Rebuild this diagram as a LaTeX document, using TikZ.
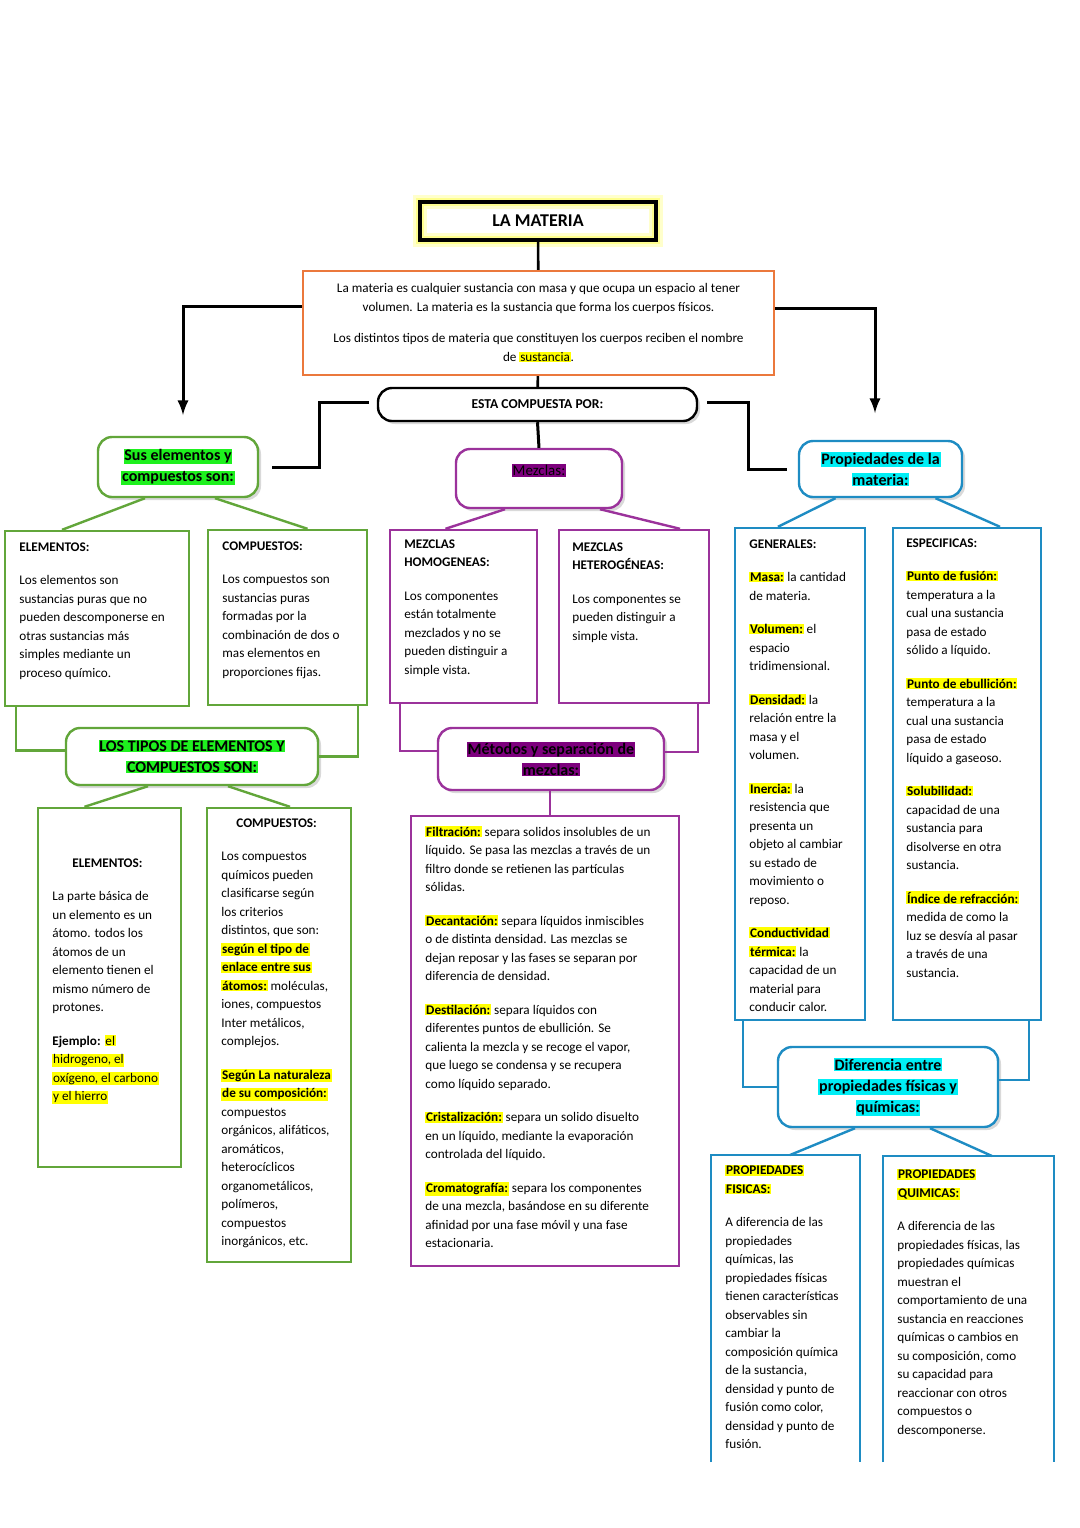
\documentclass[tikz,border=0pt]{standalone}
\usepackage{fontspec}
\setmainfont{Carlito}
\usetikzlibrary{fit,calc,shadows}

\definecolor{gline}{RGB}{98,166,58}
\definecolor{pline}{RGB}{155,50,155}
\definecolor{bline}{RGB}{30,140,195}
\definecolor{oline}{RGB}{235,120,60}
\definecolor{hly}{RGB}{255,255,0}
\definecolor{hlg}{RGB}{30,240,30}
\definecolor{hlp}{RGB}{125,0,125}
\definecolor{hlc}{RGB}{0,238,245}

\newcommand\hy[1]{{\setlength{\fboxsep}{0.4pt}\colorbox{hly}{#1}}}
\newcommand\hg[1]{{\setlength{\fboxsep}{0.4pt}\colorbox{hlg}{#1}}}
\newcommand\hp[1]{{\setlength{\fboxsep}{0.4pt}\colorbox{hlp}{#1}}}
\newcommand\hc[1]{{\setlength{\fboxsep}{0.4pt}\colorbox{hlc}{#1}}}
\newcommand\gap{\\[7.5pt]}

\tikzset{
  box/.style={inner sep=0pt, line width=1.2pt},
  rbox/.style={box, rounded corners=7pt, fill=white,
    drop shadow={opacity=0.3, shadow xshift=1.5pt, shadow yshift=-1.5pt}},
  txt/.style={inner sep=0pt, align=left, anchor=north west,
    font=\fontsize{6.6}{9.25}\selectfont},
  head/.style={inner sep=0pt, align=center, font=\fontsize{8}{10.5}\selectfont\bfseries},
  gr/.style={draw=gline, line width=1.2pt},
  pu/.style={draw=pline, line width=1.2pt},
  bl/.style={draw=bline, line width=1.2pt},
}

\begin{document}
\begin{tikzpicture}[x=0.5pt, y=-0.5pt]
\useasboundingbox (0,0) rectangle (1080,1528);

% top
\draw[hly, opacity=0.2, line width=7pt] (420,202) rectangle (656,240);
\draw[hly, opacity=0.3, line width=4pt] (420,202) rectangle (656,240);
\node[box, draw=black, line width=1.6pt, fit={(420,202)(656,240)}] (mat) {};
\node[head, font=\fontsize{9}{11}\selectfont\bfseries] at (mat) {LA MATERIA};
\node[box, draw=oline, fit={(303,271)(774,375)}] (def) {};
\node[txt, anchor=center, align=center] at (def) {La materia es cualquier sustancia con masa y que ocupa un espacio al tener\\
volumen. La materia es la sustancia que forma los cuerpos físicos.\\[6.5pt]
Los distintos tipos de materia que constituyen los cuerpos reciben el nombre\\
de \hy{sustancia}.};
\node[rbox, draw=black, fit={(378,388)(697,421)}] (esta) {};
\node[head, font=\fontsize{6.8}{9}\selectfont\bfseries] at (esta) {ESTA COMPUESTA POR:};

\draw[line width=1.3pt] (mat) -- (def);
\draw[line width=1.3pt] (def) -- (esta);
\draw[line width=1.5pt, -latex] ($(def.west)+(0,-17)$) -| (183,415);
\draw[line width=1.5pt, -latex] ($(def.east)+(0,-15)$) -| (875,413);

% level 1
\node[rbox, draw=gline, fit={(98,437)(258,497)}] (sus) {};
\node[head] at (sus) {\hg{Sus elementos y}\\\hg{compuestos son:}};
\node[rbox, draw=pline, fit={(456,449)(622,508)}] (mez) {};
\node[head, font=\fontsize{7.5}{9}\selectfont] at ($(mez)+(0,-8)$) {\hp{Mezclas:}};
\node[rbox, draw=bline, fit={(799,441)(962,497)}] (prop) {};
\node[head] at (prop) {\hc{Propiedades de la}\\\hc{materia:}};

\draw[line width=1.5pt] (esta.south) -- (mez.north);
\draw[line width=1.5pt] ($(esta.west)+(-8,-2)$) -- ++(-49,0) |- (sus.east -| 272,0);
\draw[line width=1.5pt] ($(esta.east)+(9,-2)$) -- ++(41,0) |- (prop.west -| 787,0);

% level 2 boxes
\node[box, draw=gline, fit={(5,531)(189,706)}] (el1) {};
\node[box, draw=gline, fit={(208,530)(367,705)}] (comp1) {};
\node[box, draw=pline, fit={(390,530)(537,703)}] (hom) {};
\node[box, draw=pline, fit={(559,530)(709,703)}] (het) {};
\node[box, draw=bline, fit={(735,528)(865,1020)}] (gen) {};
\node[box, draw=bline, fit={(893,528)(1041,1020)}] (esp) {};

\draw[gr] ($(sus.south)+(-33,0)$) -- ($(el1.north)+(-35,0)$);
\draw[gr] ($(sus.south)+(37,0)$) -- ($(comp1.north)+(20,0)$);
\draw[pu] ($(mez.south)+(-34,0)$) -- ($(hom.north)+(-18,0)$);
\draw[pu] ($(mez.south)+(61,0)$) -- ($(het.north)+(46,0)$);
\draw[bl] ($(prop.south)+(-45,0)$) -- ($(gen.north)+(-22,0)$);
\draw[bl] ($(prop.south)+(55,0)$) -- ($(esp.north)+(33,0)$);

\node[txt] (el1-t) at (19,542) {\textbf{ELEMENTOS:}\gap
Los elementos son\\sustancias puras que no\\pueden descomponerse en\\otras sustancias más\\simples mediante un\\proceso químico.};
\node[txt] (comp1-t) at (222,541) {\textbf{COMPUESTOS:}\gap
Los compuestos son\\sustancias puras\\formadas por la\\combinación de dos o\\mas elementos en\\proporciones fijas.};
\node[txt] (hom-t) at (404,539) {\textbf{MEZCLAS}\\\textbf{HOMOGENEAS:}\gap
Los componentes\\están totalmente\\mezclados y no se\\pueden distinguir a\\simple vista.};
\node[txt] (het-t) at (572,542) {\textbf{MEZCLAS}\\\textbf{HETEROGÉNEAS:}\gap
Los componentes se\\pueden distinguir a\\simple vista.};
\node[txt] (gen-t) at (749,539) {\textbf{GENERALES:}\gap
\hy{\textbf{Masa:}} la cantidad\\de materia.\gap
\hy{\textbf{Volumen:}} el\\espacio\\tridimensional.\gap
\hy{\textbf{Densidad:}} la\\relación entre la\\masa y el\\volumen.\gap
\hy{\textbf{Inercia:}} la\\resistencia que\\presenta un\\objeto al cambiar\\su estado de\\movimiento o\\reposo.\gap
\hy{\textbf{Conductividad}}\\\hy{\textbf{térmica:}} la\\capacidad de un\\material para\\conducir calor.};
\node[txt] (esp-t) at (906,538) {\textbf{ESPECIFICAS:}\gap
\hy{\textbf{Punto de fusión:}}\\temperatura a la\\cual una sustancia\\pasa de estado\\sólido a líquido.\gap
\hy{\textbf{Punto de ebullición:}}\\temperatura a la\\cual una sustancia\\pasa de estado\\líquido a gaseoso.\gap
\hy{\textbf{Solubilidad:}}\\capacidad de una\\sustancia para\\disolverse en otra\\sustancia.\gap
\hy{\textbf{Índice de refracción:}}\\medida de como la\\luz se desvía al pasar\\a través de una\\sustancia.};

% level 3 (green)
\node[rbox, draw=gline, fit={(66,728)(318,785)}] (tipos) {};
\node[head] at (tipos) {\hg{LOS TIPOS DE ELEMENTOS Y}\\\hg{COMPUESTOS SON:}};
\draw[gr] ($(el1.south west)+(12,0)$) |- ($(tipos.west)+(0,-6)$);
\draw[gr] ($(comp1.south east)+(-10,0)$) |- (tipos.east);
\node[box, draw=gline, fit={(38,808)(181,1167)}] (el2) {};
\node[box, draw=gline, fit={(207,808)(351,1262)}] (comp2) {};
\draw[gr] ($(tipos.south)+(-44,0)$) -- ($(el2.north)+(-25,0)$);
\draw[gr] ($(tipos.south)+(36,0)$) -- ($(comp2.north)+(11,0)$);
\node[txt] (el2-h) at (72,858) {\textbf{ELEMENTOS:}};
\node[txt] (el2-t) at (52,891) {La parte básica de\\un elemento es un\\átomo. todos los\\átomos de un\\elemento tienen el\\mismo número de\\protones.\gap
\textbf{Ejemplo:} \hy{el}\\\hy{hidrogeno, el}\\\hy{oxígeno, el carbono}\\\hy{y el hierro}};
\node[txt] (comp2-h) at (236,818) {\textbf{COMPUESTOS:}};
\node[txt] (comp2-t) at (221,852) {Los compuestos\\químicos pueden\\clasificarse según\\los criterios\\distintos, que son:\\
\hy{\textbf{según el tipo de}}\\\hy{\textbf{enlace entre sus}}\\\hy{\textbf{átomos:}} moléculas,\\iones, compuestos\\Inter metálicos,\\complejos.\gap
\hy{\textbf{Según La naturaleza}}\\\hy{\textbf{de su composición:}}\\compuestos\\orgánicos, alifáticos,\\aromáticos,\\heterocíclicos\\organometálicos,\\polímeros,\\compuestos\\inorgánicos, etc.};

% level 3 (purple)
\node[rbox, draw=pline, fit={(438,728)(664,790)}] (met) {};
\node[head] at (met) {\hp{Métodos y separación de}\\\hp{mezclas:}};
\draw[pu] ($(hom.south west)+(11,0)$) |- ($(met.west)+(0,-8)$);
\draw[pu] ($(het.south east)+(-12,0)$) |- ($(met.east)+(0,-7)$);
\node[box, draw=pline, fit={(411,816)(679,1266)}] (sep) {};
\draw[pu] ($(met.south)+(-1,0)$) -- ($(sep.north)+(5,0)$);
\node[txt] (sep-t) at (425,826) {\hy{\textbf{Filtración:}} separa solidos insolubles de un\\líquido. Se pasa las mezclas a través de un\\filtro donde se retienen las partículas\\sólidas.\gap
\hy{\textbf{Decantación:}} separa líquidos inmiscibles\\o de distinta densidad. Las mezclas se\\dejan reposar y las fases se separan por\\diferencia de densidad.\gap
\hy{\textbf{Destilación:}} separa líquidos con\\diferentes puntos de ebullición. Se\\calienta la mezcla y se recoge el vapor,\\que luego se condensa y se recupera\\como líquido separado.\gap
\hy{\textbf{Cristalización:}} separa un solido disuelto\\en un líquido, mediante la evaporación\\controlada del líquido.\gap
\hy{\textbf{Cromatografía:}} separa los componentes\\de una mezcla, basándose en su diferente\\afinidad por una fase móvil y una fase\\estacionaria.};

% level 3 (blue)
\node[rbox, draw=bline, fit={(778,1047)(998,1127)}] (dif) {};
\node[head] at (dif) {\hc{Diferencia entre}\\\hc{propiedades físicas y}\\\hc{químicas:}};
\draw[bl] ($(gen.south west)+(9,0)$) |- (dif.west);
\draw[bl] ($(esp.south east)+(-13,0)$) |- ($(dif.east)+(0,-7)$);
\coordinate (fis-b) at (711,1462);
\coordinate (qui-b) at (883,1462);
\draw[bl] (fis-b) |- (860,1155) coordinate (fis) -- (860,1462);
\draw[bl] (qui-b) |- (1054,1156) coordinate (qui) -- (1054,1462);
\draw[bl] ($(dif.south)+(-33,0)$) -- (790,1155);
\draw[bl] ($(dif.south)+(42,0)$) -- (992,1156);
\node[txt] (fis-t) at (725,1165) {\hy{\textbf{PROPIEDADES}}\\\hy{\textbf{FISICAS:}}\gap
A diferencia de las\\propiedades\\químicas, las\\propiedades físicas\\tienen características\\observables sin\\cambiar la\\composición química\\de la sustancia,\\densidad y punto de\\fusión como color,\\densidad y punto de\\fusión.};
\node[txt] (qui-t) at (897,1169) {\hy{\textbf{PROPIEDADES}}\\\hy{\textbf{QUIMICAS:}}\gap
A diferencia de las\\propiedades físicas, las\\propiedades químicas\\muestran el\\comportamiento de una\\sustancia en reacciones\\químicas o cambios en\\su composición, como\\su capacidad para\\reaccionar con otros\\compuestos o\\descomponerse.};
\end{tikzpicture}
\end{document}
